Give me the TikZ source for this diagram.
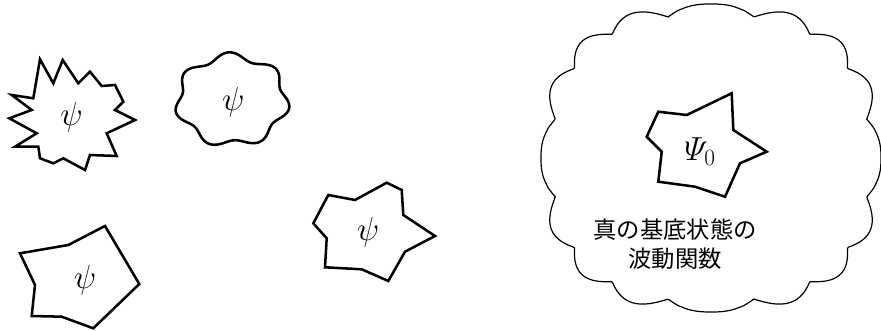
\RequirePackage{fix-cm}
\documentclass[tikz,border=0pt]{standalone}
\usepackage{fontspec}
\usepackage{tikz}
\newfontfamily\jpfont{Noto Sans CJK JP}
\tikzset{
  blob/.style   = {draw, line width=1.9pt, line join=miter},
  cloud/.style  = {draw, line width=0.9pt},
  wfn/.style    = {font=\fontsize{25}{25}\selectfont},
  caption/.style= {align=center, font=\jpfont\fontsize{17.5}{21.5}\selectfont},
}
\begin{document}
\begin{tikzpicture}[x=0.75pt,y=-0.75pt]
  \useasboundingbox (0,0) rectangle (881,331);
  % spiky trial function
  \draw[blob] (40,59.3) -- (53.3,83.3) -- (62.7,60) -- (78.3,83.3) -- (90,71.7)
    -- (101.7,86) -- (115,85) -- (123.3,101.7) -- (115,110) -- (135,120)
    -- (106.7,133.3) -- (116.7,156) -- (90,155) -- (85,170) -- (63.3,158.3)
    -- (53.3,163.3) -- (40,158.3) -- (38.3,146.7) -- (15,146.7) -- (36.7,133.3)
    -- (9.3,118.3) -- (31.7,110) -- (11.7,95) -- (33.3,98.3) -- cycle;
  \node[wfn] (psiA) at (71.7,116.7) {$\psi$};
  % wavy trial function
  \draw[blob, smooth, samples=140, domain=0:360]
    plot ({232+54*(1+0.075*sin(7*\x+20))*cos(\x)}, {100+44*(1+0.085*sin(7*\x+20))*sin(\x)}) -- cycle;
  \node[wfn] (psiB) at (233.3,101.7) {$\psi$};
  % middle polygon
  \draw[blob] (328.3,195) -- (355,200) -- (386.7,182.7) -- (401.7,190) -- (403.3,215)
    -- (435,236) -- (405,251.7) -- (388.3,281) -- (361.7,269.3) -- (325,267.3)
    -- (326.7,238.3) -- (313.3,223.3) -- cycle;
  \node[wfn] (psiC) at (368,232) {$\psi$};
  % lower left polygon
  \draw[blob] (20,253.3) -- (68.3,245) -- (105,226) -- (139.3,284) -- (93.3,328.3)
    -- (61.7,316.7) -- (31.7,316) -- (35,285) -- cycle;
  \node[wfn] (psiD) at (85,280) {$\psi$};
  % cloud of the true ground state
  \draw[cloud, samples=541, domain=0.1:360.1]
    plot ({711+170*(0.93+0.07*abs(sin(8*\x+90)))*sign(cos(\x))*pow(abs(cos(\x))+0.0001,0.8)},
          {158+154*(0.93+0.07*abs(sin(8*\x+90)))*sign(sin(\x))*pow(abs(sin(\x))+0.0001,0.8)}) -- cycle;
  \draw[blob] (646.7,136.7) -- (658.3,111.7) -- (686.7,115) -- (731.7,93.3) -- (733.3,130)
    -- (766.7,151.7) -- (740,163.3) -- (725,196.7) -- (695,186.7) -- (658.3,181.7)
    -- (661.7,151.7) -- cycle;
  \node[wfn] (psi0) at (700,151.7) {$\mathnormal{\Psi}_0$};
  \node[caption] (truegs) at (675,244) {真の基底状態の\\波動関数};
\end{tikzpicture}
\end{document}
